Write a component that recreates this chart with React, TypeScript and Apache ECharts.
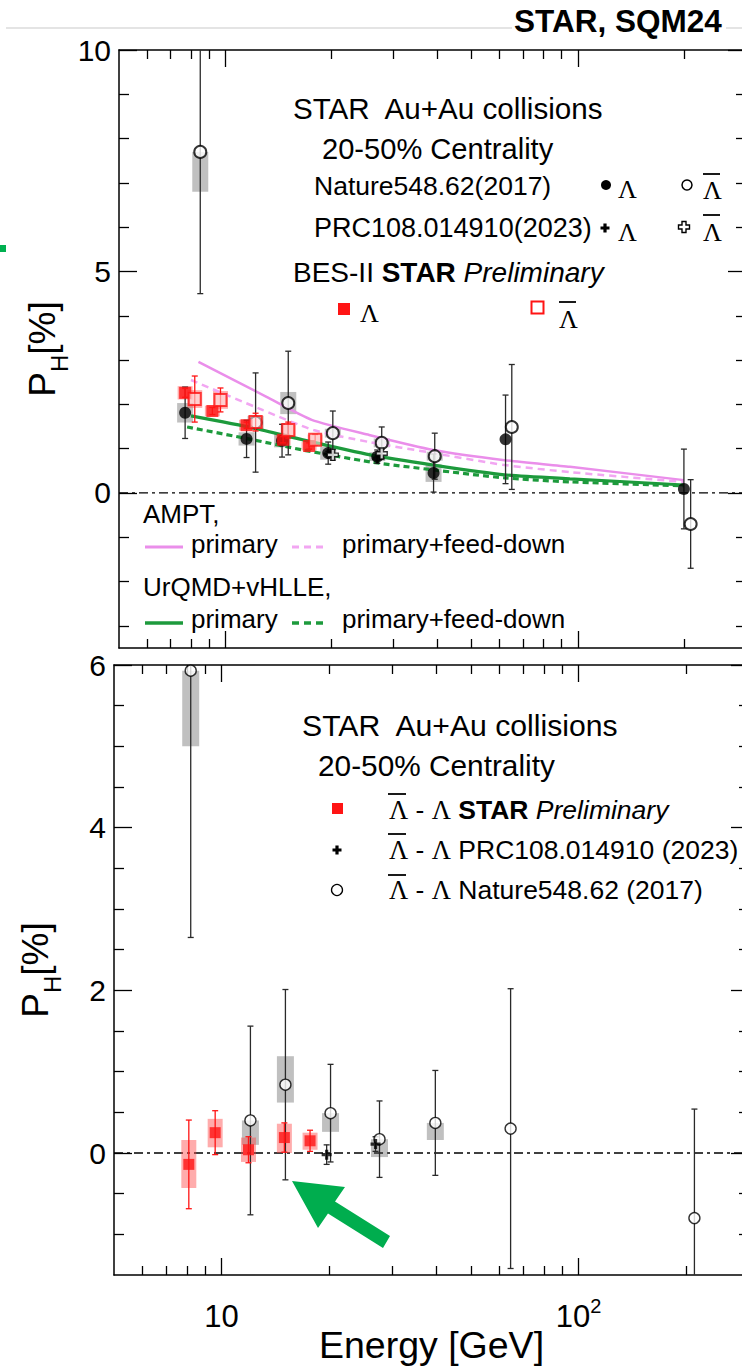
import React, { useEffect, useRef } from 'react';
import * as echarts from 'echarts';

const SANS = '"Liberation Sans", Arial, Helvetica, sans-serif';
const SERIF = '"Liberation Serif", "Times New Roman", serif';

// ---------- axes ----------
const X_MIN = 5;
const X_MAX = 300;
const xMajorTicks = [10, 100];
const xMinorTicks = [6, 7, 8, 9, 20, 30, 40, 50, 60, 70, 80, 90, 200];
const xSpan = [X_MIN, X_MAX];

const topYMin = -3.5;
const topYMax = 10;
const topYMajor = [0, 5, 10];
const topYMinor = [-3, -2, -1, 1, 2, 3, 4, 6, 7, 8, 9];

const botYMin = -1.5;
const botYMax = 6;
const botYMajor = [0, 2, 4, 6];
const botYMinor = [-1, -0.5, 0.5, 1, 1.5, 2.5, 3, 3.5, 4.5, 5, 5.5];

// ---------- upper panel: Λ and anti-Λ global polarization (%) ----------
const natureLambdaE = [7.7, 11.5, 14.5, 19.6, 27, 39, 62.4, 200];
const natureLambdaP = [1.81, 1.22, 1.18, 0.9, 0.82, 0.45, 1.21, 0.09];
const natureLambdaStat = [0.58, 0.42, 0.37, 0.25, 0.15, 0.43, 1.0, 0.9];
const natureLambdaSys = [0.22, 0.15, 0.15, 0.15, 0.1, 0.2, 0, 0];

const natureAntiE = [8.5, 12.2, 15.1, 20.2, 27.8, 39.3, 65, 209];
const natureAntiP = [7.7, 1.59, 2.03, 1.35, 1.13, 0.83, 1.49, -0.7];
const natureAntiStat = [3.2, 1.12, 1.17, 0.5, 0.36, 0.52, 1.41, 1.0];
const natureAntiSysDn = [0.9, 0.15, 0.25, 0.1, 0.1, 0.1, 0, 0];
const natureAntiSysUp = [0, 0.15, 0.25, 0.1, 0.1, 0.1, 0, 0];

const prcLambdaE = [19.6, 27];
const prcLambdaP = [0.88, 0.78];
const prcLambdaStat = [0.06, 0.05];
const prcAntiE = [20.2, 27.8];
const prcAntiP = [0.86, 0.89];
const prcAntiStat = [0.12, 0.1];

const besLambdaE = [7.7, 9.2, 11.5, 14.6, 17.3];
const besLambdaP = [2.26, 1.85, 1.53, 1.2, 1.06];
const besLambdaStat = [0.1, 0.08, 0.07, 0.07, 0.07];
const besLambdaSys = [0.15, 0.12, 0.12, 0.12, 0.1];
const besAntiE = [8.2, 9.7, 12.2, 15.1, 18.0];
const besAntiP = [2.12, 2.1, 1.6, 1.42, 1.2];
const besAntiStat = [0.52, 0.27, 0.2, 0.18, 0.12];
const besAntiSys = [0.2, 0.2, 0.15, 0.15, 0.12];

// model calculations
const amptPrimaryE = [8.4, 13.1, 17.6, 25.6, 39, 62, 95, 200];
const amptPrimaryP = [2.96, 2.17, 1.65, 1.31, 0.97, 0.74, 0.59, 0.29];
const amptFeedE = [8.0, 12.8, 17.8, 25.6, 39, 62, 95, 200];
const amptFeedP = [2.55, 1.87, 1.42, 1.15, 0.9, 0.63, 0.47, 0.25];
const urqmdPrimaryE = [8.0, 12.0, 16.6, 25.8, 39, 62, 95, 200];
const urqmdPrimaryP = [1.74, 1.47, 1.2, 0.86, 0.63, 0.41, 0.32, 0.18];
const urqmdFeedE = [7.8, 12.0, 16.6, 25.8, 39, 62, 95, 200];
const urqmdFeedP = [1.49, 1.2, 0.97, 0.7, 0.52, 0.34, 0.25, 0.16];

// ---------- lower panel: anti-Λ minus Λ (%) ----------
const besDiffE = [8.1, 9.6, 11.9, 15.0, 17.7];
const besDiffP = [-0.14, 0.25, 0.04, 0.19, 0.15];
const besDiffStat = [0.545, 0.27, 0.16, 0.18, 0.13];
const besDiffSysDn = [0.29, 0.18, 0.15, 0.19, 0.11];
const besDiffSysUp = [0.3, 0.17, 0.15, 0.17, 0.1];

const prcDiffE = [19.7, 27.0];
const prcDiffP = [-0.02, 0.11];
const prcDiffStat = [0.12, 0.09];

const natureDiffE = [8.2, 12.05, 15.1, 20.2, 27.7, 39.7, 64.5, 211];
const natureDiffP = [5.93, 0.4, 0.84, 0.49, 0.17, 0.37, 0.3, -0.8];
const natureDiffStat = [3.28, 1.16, 1.17, 0.6, 0.47, 0.645, 1.72, 1.34];
const natureDiffSysDn = [0.93, 0.3, 0.22, 0.23, 0.22, 0.21, 0, 0];
const natureDiffSysUp = [0, 0, 0.35, 0, 0, 0, 0, 0];

// ---------- colours ----------
const RED = '#ff1414';
const RED_BOX = 'rgba(255,70,70,0.45)';
const GRAY_BOX = 'rgba(90,90,90,0.38)';
const VIOLET = '#ea8eea';
const VIOLET_DASH = '#f2a6f2';
const GREEN = '#1d9a3c';
const BAR = '#2a2a2a';
const ARROW = '#00ad4e';

const PLUS = 'path://M-1.6,-5H1.6V-1.6H5V1.6H1.6V5H-1.6V1.6H-5V-1.6H-1.6Z';

const pairs = (xs: number[], ys: number[]) => xs.map((x, i) => [x, ys[i]]);

function errorBars(name: string, xs: number[], ys: number[], errs: number[], color: string, ax: number, z = 4) {
  return {
    type: 'custom',
    name,
    xAxisIndex: ax,
    yAxisIndex: ax,
    clip: true,
    silent: true,
    z,
    data: xs.map((x, i) => [x, ys[i], errs[i]]),
    encode: { x: 0, y: 1 },
    renderItem: (_p: any, api: any) => {
      const x = api.value(0);
      const y = api.value(1);
      const e = api.value(2);
      const a = api.coord([x, y + e]);
      const b = api.coord([x, y - e]);
      const style = { stroke: color, lineWidth: 1.3, fill: 'none' };
      const cap = 3;
      return {
        type: 'group',
        children: [
          { type: 'line', shape: { x1: a[0], y1: a[1], x2: b[0], y2: b[1] }, style },
          { type: 'line', shape: { x1: a[0] - cap, y1: a[1], x2: a[0] + cap, y2: a[1] }, style },
          { type: 'line', shape: { x1: b[0] - cap, y1: b[1], x2: b[0] + cap, y2: b[1] }, style },
        ],
      };
    },
  };
}

function sysBoxes(name: string, xs: number[], ys: number[], dn: number[], up: number[], color: string, ax: number, w: number) {
  return {
    type: 'custom',
    name,
    xAxisIndex: ax,
    yAxisIndex: ax,
    clip: true,
    silent: true,
    z: 2,
    data: xs.map((x, i) => [x, ys[i], dn[i], up[i]]),
    encode: { x: 0, y: 1 },
    renderItem: (_p: any, api: any) => {
      const x = api.value(0);
      const y = api.value(1);
      const d = api.value(2);
      const u = api.value(3);
      if (d + u <= 0) return null;
      const a = api.coord([x, y + u]);
      const b = api.coord([x, y - d]);
      return {
        type: 'rect',
        shape: { x: a[0] - w / 2, y: a[1], width: w, height: b[1] - a[1] },
        style: { fill: color },
      };
    },
  };
}

function markers(name: string, xs: number[], ys: number[], symbol: string, size: number, itemStyle: any, ax: number, z = 5) {
  return {
    type: 'scatter',
    name,
    xAxisIndex: ax,
    yAxisIndex: ax,
    silent: true,
    z,
    data: pairs(xs, ys),
    symbol,
    symbolSize: size,
    itemStyle,
  };
}

function curve(name: string, xs: number[], ys: number[], color: string, width: number, type: any, ax: number) {
  return {
    type: 'line',
    name,
    xAxisIndex: ax,
    yAxisIndex: ax,
    silent: true,
    z: 3,
    data: pairs(xs, ys),
    showSymbol: false,
    symbol: 'none',
    smooth: 0.2,
    lineStyle: { color, width, type },
  };
}

function zeroLine(ax: number) {
  return {
    type: 'line',
    name: 'zero',
    xAxisIndex: ax,
    yAxisIndex: ax,
    silent: true,
    z: 1,
    data: xSpan.map((x) => [x, 0]),
    showSymbol: false,
    symbol: 'none',
    lineStyle: { color: '#000', width: 1.3, type: [9, 4, 3, 4] },
  };
}

const frameLine = { show: true, onZero: false, lineStyle: { color: '#000', width: 1.5 } };
const tickLine = { color: '#000', width: 1.3 };

function xAxes(gridIndex: number, withLabels: boolean) {
  const base = {
    type: 'log',
    logBase: 10,
    gridIndex,
    min: X_MIN,
    max: X_MAX,
    splitLine: { show: false },
  };
  const bottomMajor: any = {
    ...base,
    position: 'bottom',
    axisLine: frameLine,
    axisTick: { show: true, inside: true, length: 17, customValues: xMajorTicks, lineStyle: tickLine },
    axisLabel: { show: false },
  };
  if (withLabels) {
    bottomMajor.axisLabel = {
      show: true,
      customValues: xMajorTicks,
      margin: 21,
      color: '#000',
      formatter: (v: number) => {
        const e = Math.round(Math.log10(v));
        return e === 1 ? '{n|10}' : '{n|10}{s|' + e + '}';
      },
      rich: {
        n: { fontSize: 31, lineHeight: 40, fontFamily: SANS, color: '#000' },
        s: { fontSize: 20, lineHeight: 20, padding: [0, 0, 20, 0], fontFamily: SANS, color: '#000' },
      },
    };
    bottomMajor.name = 'Energy [GeV]';
    bottomMajor.nameLocation = 'middle';
    bottomMajor.nameGap = 51;
    bottomMajor.nameMoveOverlap = false;
    bottomMajor.nameTextStyle = { fontSize: 37.5, color: '#000', fontFamily: SANS };
  }
  return [
    bottomMajor,
    {
      ...base,
      position: 'top',
      axisLine: frameLine,
      axisTick: { show: true, inside: true, length: 17, customValues: xMajorTicks, lineStyle: tickLine },
      axisLabel: { show: false },
    },
    {
      ...base,
      position: 'bottom',
      axisLine: { show: false, onZero: false },
      axisTick: { show: true, inside: true, length: 9, customValues: xMinorTicks, lineStyle: tickLine },
      axisLabel: { show: false },
    },
    {
      ...base,
      position: 'top',
      axisLine: { show: false, onZero: false },
      axisTick: { show: true, inside: true, length: 9, customValues: xMinorTicks, lineStyle: tickLine },
      axisLabel: { show: false },
    },
  ];
}

function yAxes(gridIndex: number, min: number, max: number, major: number[], minor: number[], nameGap: number) {
  const base = { type: 'value', gridIndex, min, max, splitLine: { show: false } };
  return [
    {
      ...base,
      position: 'left',
      axisLine: frameLine,
      axisTick: { show: true, inside: true, length: 18, customValues: major, lineStyle: tickLine },
      axisLabel: { show: true, customValues: major, fontSize: 30, color: '#000', margin: 8, fontFamily: SANS },
      name: '{p|P}{h|H}{p|[%]}',
      nameLocation: 'middle',
      nameRotate: 90,
      nameGap,
      nameMoveOverlap: false,
      nameTextStyle: {
        rich: {
          p: { fontSize: 37, lineHeight: 40, color: '#000', fontFamily: SANS },
          h: { fontSize: 24, lineHeight: 24, padding: [34, 0, 0, 0], color: '#000', fontFamily: SANS },
        },
      },
    },
    {
      ...base,
      position: 'right',
      axisLine: frameLine,
      axisTick: { show: true, inside: true, length: 18, customValues: major, lineStyle: tickLine },
      axisLabel: { show: false },
    },
    {
      ...base,
      position: 'left',
      axisLine: { show: false, onZero: false },
      axisTick: { show: true, inside: true, length: 10, customValues: minor, lineStyle: tickLine },
      axisLabel: { show: false },
    },
    {
      ...base,
      position: 'right',
      axisLine: { show: false, onZero: false },
      axisTick: { show: true, inside: true, length: 10, customValues: minor, lineStyle: tickLine },
      axisLabel: { show: false },
    },
  ];
}

// ---------- graphic helpers (legends, header, annotation) ----------
const text = (x: number, y: number, t: string, fontSize: number, extra: any = {}) => ({
  type: 'text',
  x,
  y,
  silent: true,
  style: {
    text: t,
    fontSize,
    fontFamily: SANS,
    fill: '#000',
    align: 'left',
    verticalAlign: 'middle',
    textAlign: 'left',
    textVerticalAlign: 'middle',
    ...extra,
  },
});
const lam = (x: number, y: number, size = 26) => text(x, y, 'Λ', size, { fontFamily: SERIF });
const bar = (x1: number, x2: number, y: number) => ({
  type: 'line',
  silent: true,
  shape: { x1, y1: y, x2, y2: y },
  style: { stroke: '#000', lineWidth: 1.8 },
});
const hline = (x1: number, x2: number, y: number, color: string, width: number, dash?: number[]) => ({
  type: 'line',
  silent: true,
  shape: { x1, y1: y, x2, y2: y },
  style: { stroke: color, lineWidth: width, lineDash: dash },
});
const plusShape = (cx: number, cy: number, r: number, a: number, fill: string, stroke?: string) => ({
  type: 'polygon',
  silent: true,
  shape: {
    points: [
      [cx - a, cy - r], [cx + a, cy - r], [cx + a, cy - a], [cx + r, cy - a], [cx + r, cy + a], [cx + a, cy + a],
      [cx + a, cy + r], [cx - a, cy + r], [cx - a, cy + a], [cx - r, cy + a], [cx - r, cy - a], [cx - a, cy - a],
    ],
  },
  style: { fill, stroke: stroke || 'none', lineWidth: 1.4 },
});

function buildGraphic() {
  const diffRich = {
    rich: {
      l: { fontFamily: SERIF, fontSize: 26.5, fill: '#000' },
      n: { fontFamily: SANS, fontSize: 26.5, fill: '#000' },
      b: { fontFamily: SANS, fontSize: 26.5, fontWeight: 'bold', fill: '#000' },
      i: { fontFamily: SANS, fontSize: 26.5, fontStyle: 'italic', fill: '#000' },
    },
  };
  return [
    // header
    hline(6, 512, 28, '#c9c9c9', 1),
    hline(726, 742, 28, '#c9c9c9', 1),
    text(514, 21, 'STAR, SQM24', 31.5, { fontWeight: 'bold' }),
    { type: 'rect', silent: true, shape: { x: 0, y: 245, width: 6, height: 7 }, style: { fill: '#00b050' } },

    // upper legend
    text(293, 108, 'STAR  Au+Au collisions', 29.6),
    text(322, 149, '20-50% Centrality', 29.1),
    text(314, 186, 'Nature548.62(2017)', 26.5),
    { type: 'circle', silent: true, shape: { cx: 606, cy: 185, r: 5 }, style: { fill: '#000' } },
    lam(618, 189),
    { type: 'circle', silent: true, shape: { cx: 687, cy: 185, r: 5 }, style: { fill: '#fff', stroke: '#000', lineWidth: 1.5 } },
    lam(703, 190),
    bar(703, 720, 174),
    text(314, 228, 'PRC108.014910(2023)', 27),
    plusShape(605, 228, 4.5, 1.6, '#000'),
    lam(618, 232),
    plusShape(684, 227, 5.5, 2, '#fff', '#000'),
    lam(703, 232),
    bar(703, 720, 215),
    text(293, 272, '{n|BES-II }{b|STAR}{i| Preliminary}', 28, {
      rich: {
        n: { fontFamily: SANS, fontSize: 28, fill: '#000' },
        b: { fontFamily: SANS, fontSize: 28, fontWeight: 'bold', fill: '#000' },
        i: { fontFamily: SANS, fontSize: 28, fontStyle: 'italic', fill: '#000' },
      },
    }),
    { type: 'rect', silent: true, shape: { x: 338, y: 303, width: 12, height: 12 }, style: { fill: RED } },
    lam(360, 313),
    { type: 'rect', silent: true, shape: { x: 531.5, y: 301.5, width: 12, height: 12 }, style: { fill: '#fff', stroke: RED, lineWidth: 2 } },
    lam(559, 319),
    bar(559, 576, 302),

    // model legend
    text(143, 514, 'AMPT,', 26),
    hline(145, 183, 547, VIOLET, 3),
    text(191, 544, 'primary', 26),
    hline(292, 324, 547, VIOLET_DASH, 3, [7, 5]),
    text(342, 544, 'primary+feed-down', 26),
    text(143, 587, 'UrQMD+vHLLE,', 26),
    hline(145, 183, 623, GREEN, 3.5),
    text(191, 619, 'primary', 26),
    hline(292, 324, 623, GREEN, 3.5, [7, 5]),
    text(342, 619, 'primary+feed-down', 26),

    // lower legend
    text(302, 725, 'STAR  Au+Au collisions', 30.2),
    text(318, 765, '20-50% Centrality', 29.8),
    { type: 'rect', silent: true, shape: { x: 332, y: 803, width: 11, height: 11 }, style: { fill: RED } },
    text(389, 810, '{l|Λ}{n| - }{l|Λ}{n| }{b|STAR}{i| Preliminary}', 26.5, diffRich),
    bar(388, 406, 794),
    plusShape(337, 850, 4.5, 1.6, '#000'),
    text(389, 850, '{l|Λ}{n| - }{l|Λ}{n| PRC108.014910 (2023)}', 26.5, diffRich),
    bar(388, 406, 834),
    { type: 'circle', silent: true, shape: { cx: 337, cy: 890, r: 5.5 }, style: { fill: '#fff', stroke: '#000', lineWidth: 1.3 } },
    text(389, 890, '{l|Λ}{n| - }{l|Λ}{n| Nature548.62 (2017)}', 26.5, diffRich),
    bar(388, 406, 875),

    // arrow annotation
    {
      type: 'polygon',
      silent: true,
      shape: {
        points: [[292, 1181], [345, 1187], [335, 1201.5], [390, 1236], [383, 1248], [328, 1213.5], [318, 1228]],
      },
      style: { fill: ARROW },
    },
  ];
}

function buildOption() {
  const T = 0; // upper panel axis index
  const B = 4; // lower panel axis index
  return {
    animation: false,
    backgroundColor: '#fff',
    textStyle: { fontFamily: SANS },
    grid: [
      { left: 119, top: 50, width: 627, height: 598, containLabel: false, outerBoundsMode: 'none' },
      { left: 114, top: 665, width: 635, height: 610, containLabel: false, outerBoundsMode: 'none' },
    ],
    xAxis: [...xAxes(0, false), ...xAxes(1, true)],
    yAxis: [
      ...yAxes(0, topYMin, topYMax, topYMajor, topYMinor, 57),
      ...yAxes(1, botYMin, botYMax, botYMajor, botYMinor, 59),
    ],
    series: [
      // upper panel
      zeroLine(T),
      sysBoxes('Nature Λ sys', natureLambdaE, natureLambdaP, natureLambdaSys, natureLambdaSys, GRAY_BOX, T, 16),
      sysBoxes('Nature anti-Λ sys', natureAntiE, natureAntiP, natureAntiSysDn, natureAntiSysUp, GRAY_BOX, T, 16),
      sysBoxes('BES-II Λ sys', besLambdaE, besLambdaP, besLambdaSys, besLambdaSys, RED_BOX, T, 15),
      sysBoxes('BES-II anti-Λ sys', besAntiE, besAntiP, besAntiSys, besAntiSys, RED_BOX, T, 15),
      curve('AMPT primary', amptPrimaryE, amptPrimaryP, VIOLET, 2.5, 'solid', T),
      curve('AMPT primary+feed-down', amptFeedE, amptFeedP, VIOLET_DASH, 2.5, [7, 5], T),
      curve('UrQMD+vHLLE primary', urqmdPrimaryE, urqmdPrimaryP, GREEN, 3.2, 'solid', T),
      curve('UrQMD+vHLLE primary+feed-down', urqmdFeedE, urqmdFeedP, GREEN, 3.2, [6, 4], T),
      errorBars('Nature Λ stat', natureLambdaE, natureLambdaP, natureLambdaStat, BAR, T),
      errorBars('Nature anti-Λ stat', natureAntiE, natureAntiP, natureAntiStat, BAR, T),
      errorBars('PRC Λ stat', prcLambdaE, prcLambdaP, prcLambdaStat, BAR, T),
      errorBars('PRC anti-Λ stat', prcAntiE, prcAntiP, prcAntiStat, BAR, T),
      errorBars('BES-II Λ stat', besLambdaE, besLambdaP, besLambdaStat, RED, T, 6),
      errorBars('BES-II anti-Λ stat', besAntiE, besAntiP, besAntiStat, RED, T, 6),
      markers('Nature Λ', natureLambdaE, natureLambdaP, 'circle', 12, { color: '#000' }, T),
      markers('Nature anti-Λ', natureAntiE, natureAntiP, 'circle', 12, { color: '#fff', borderColor: '#000', borderWidth: 2 }, T),
      markers('PRC Λ', prcLambdaE, prcLambdaP, PLUS, 10, { color: '#000' }, T),
      markers('PRC anti-Λ', prcAntiE, prcAntiP, PLUS, 11, { color: '#fff', borderColor: '#000', borderWidth: 1.4 }, T),
      markers('BES-II Λ', besLambdaE, besLambdaP, 'rect', 12, { color: RED }, T, 7),
      markers('BES-II anti-Λ', besAntiE, besAntiP, 'rect', 12, { color: 'rgba(255,235,235,0.7)', borderColor: RED, borderWidth: 2 }, T, 7),

      // lower panel
      zeroLine(B),
      sysBoxes('Nature diff sys', natureDiffE, natureDiffP, natureDiffSysDn, natureDiffSysUp, GRAY_BOX, B, 17),
      sysBoxes('BES-II diff sys', besDiffE, besDiffP, besDiffSysDn, besDiffSysUp, RED_BOX, B, 15),
      errorBars('Nature diff stat', natureDiffE, natureDiffP, natureDiffStat, BAR, B),
      errorBars('PRC diff stat', prcDiffE, prcDiffP, prcDiffStat, BAR, B),
      errorBars('BES-II diff stat', besDiffE, besDiffP, besDiffStat, RED, B, 6),
      markers('Nature diff', natureDiffE, natureDiffP, 'circle', 11, { color: '#fff', borderColor: '#000', borderWidth: 1.4 }, B),
      markers('PRC diff', prcDiffE, prcDiffP, PLUS, 10, { color: '#000' }, B),
      markers('BES-II diff', besDiffE, besDiffP, 'rect', 11, { color: RED }, B, 7),
    ],
    graphic: { elements: buildGraphic() },
  };
}

export default function App() {
  const ref = useRef<HTMLDivElement>(null);
  useEffect(() => {
    if (!ref.current) return;
    const chart = echarts.init(ref.current, null, { renderer: 'svg' });
    chart.setOption(buildOption() as any);
    return () => chart.dispose();
  }, []);
  return (
    <div
      style={{
        position: 'absolute',
        left: 0,
        top: 0,
        width: 742,
        height: 1367,
        overflow: 'hidden',
        background: '#fff',
      }}
    >
      <div ref={ref} style={{ width: 760, height: 1367 }} />
    </div>
  );
}
